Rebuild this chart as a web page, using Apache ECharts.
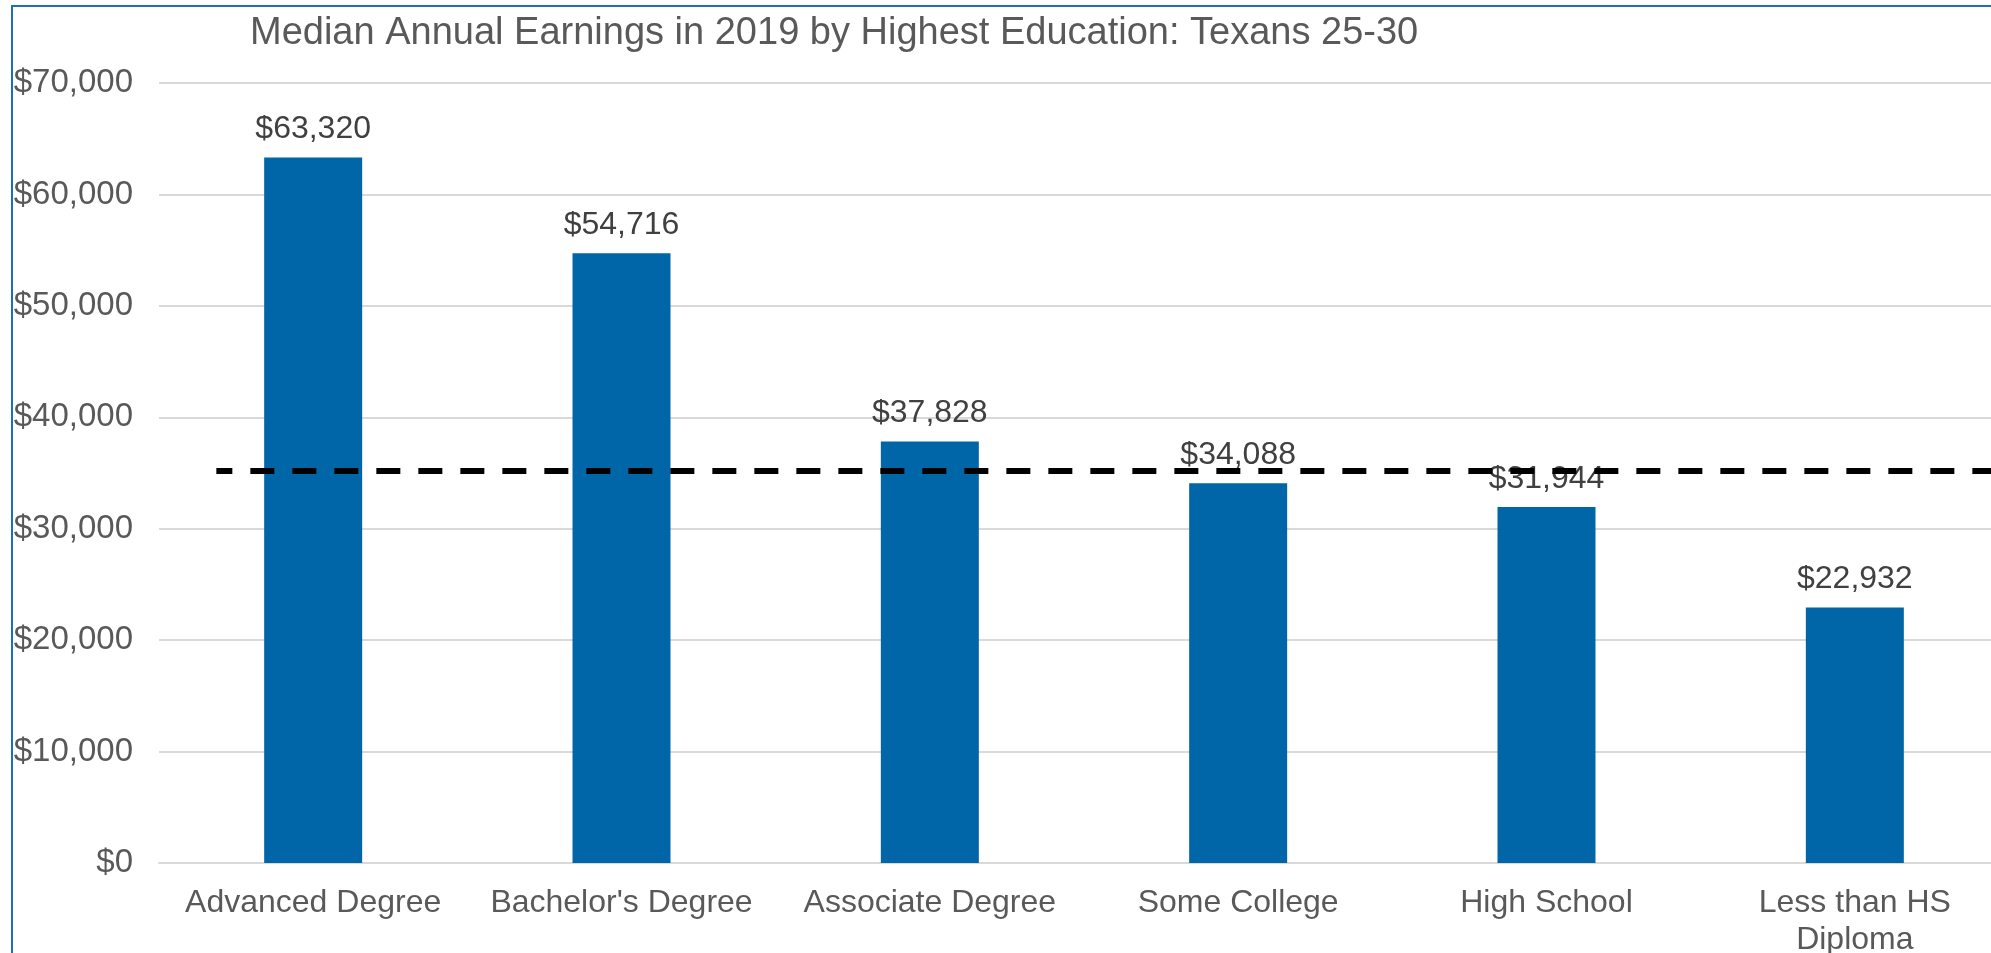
<!DOCTYPE html>
<html>
<head>
<meta charset="utf-8">
<script src="https://cdn.jsdelivr.net/npm/echarts@6/dist/echarts.min.js"></script>
<style>
  html, body { margin: 0; padding: 0; background: #fff; overflow: hidden; }
  #chart { position: absolute; left: 0; top: 0; width: 1991px; height: 953px; }
  #frame {
    position: absolute; left: 11px; top: 5px; width: 2100px; height: 1100px;
    border-left: 2px solid #1f6fb5; border-top: 2px solid #1f6fb5;
    pointer-events: none;
  }
</style>
</head>
<body>
<div id="chart"></div>
<div id="frame"></div>
<script>
// values
var categories = ['Advanced Degree', "Bachelor's Degree", 'Associate Degree', 'Some College', 'High School', 'Less than HS\nDiploma'];
var earnings = [63320, 54716, 37828, 34088, 31944, 22932];
// dashed reference line (all Texans 25-30, approx.)
var refValue = 35180;
var refSpan = [0.031, 1];

var font = "'Liberation Sans', Arial, sans-serif";

function money(v) {
    return '$' + Number(v).toLocaleString('en-US');
}

var myChart = echarts.init(document.getElementById('chart'));

myChart.setOption({
    animation: false,
    title: {
        text: 'Median Annual Earnings in 2019 by Highest Education: Texans 25-30',
        left: 250,
        top: 15,
        padding: 0,
        textStyle: {
            color: '#595959',
            fontFamily: font,
            fontSize: 38,
            fontWeight: 'normal'
        }
    },
    grid: {
        left: 159,
        top: 83,
        width: 1850,
        height: 780,
        outerBoundsMode: 'none'
    },
    xAxis: [
        {
            type: 'category',
            data: categories,
            axisTick: {show: false},
            axisLine: {lineStyle: {color: '#d9d9d9', width: 2}},
            axisLabel: {
                color: '#595959',
                fontFamily: font,
                fontSize: 32,
                lineHeight: 37,
                margin: 22,
                interval: 0
            }
        },
        {
            // hidden helper axis for the dashed line
            type: 'value',
            min: 0,
            max: 1,
            show: false
        }
    ],
    yAxis: {
        type: 'value',
        min: 0,
        max: 70000,
        interval: 10000,
        axisLine: {show: false},
        axisTick: {show: false},
        splitLine: {lineStyle: {color: '#d9d9d9', width: 2}},
        axisLabel: {
            color: '#595959',
            fontFamily: font,
            fontSize: 33,
            margin: 26,
            formatter: money
        }
    },
    series: [
        {
            name: 'Median earnings',
            type: 'bar',
            data: earnings,
            barWidth: 98,
            itemStyle: {color: '#0066a8'},
            label: {
                show: true,
                position: 'top',
                distance: 12,
                color: '#404040',
                fontFamily: font,
                fontSize: 32,
                formatter: function (p) { return money(p.value); }
            }
        },
        {
            name: 'All',
            type: 'line',
            xAxisIndex: 1,
            data: [[refSpan[0], refValue], [refSpan[1], refValue]],
            symbol: 'none',
            z: 5,
            lineStyle: {
                color: '#000',
                width: 6,
                type: [24, 18],
                dashOffset: 8
            }
        }
    ]
});
</script>
</body>
</html>
